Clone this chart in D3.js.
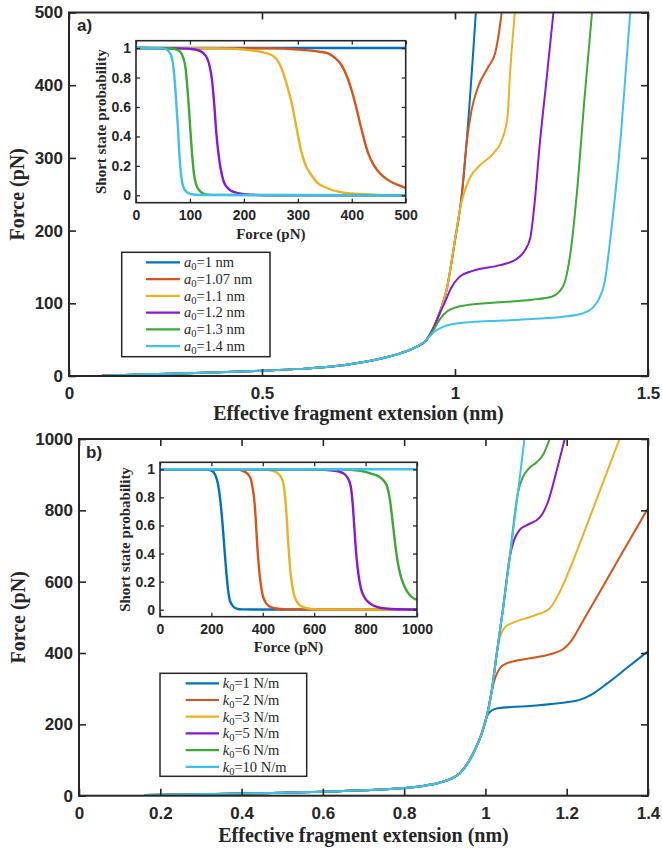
<!DOCTYPE html>
<html>
<head>
<meta charset="utf-8">
<script src="https://cdn.jsdelivr.net/npm/d3@7"></script>
<style>
  body { margin: 0; background: #fff; }
  svg { display: block; }
</style>
</head>
<body>
<script>
const width = 662;
const height = 848;

const colors = ["#0072BD", "#D95319", "#EDB120", "#8419D8", "#3BA935", "#3EC1F0"];

// ---- panel a data: force (pN) vs effective extension (nm) ----
const baseA = [[0.085, 0.5], [0.2, 2.3], [0.35, 4.5], [0.5, 7.3], [0.6, 9.8], [0.68, 13],
  [0.76, 19], [0.82, 25.5], [0.86, 31.5], [0.9, 40], [0.925, 49]];
const steepA = [[0.945, 67], [0.962, 90], [0.978, 118], [1.0, 187]];
const branchA1 = [[1.017, 246], [1.054, 500]];
const branchA107 = [[1.017, 246], [1.030, 320], [1.043, 366], [1.060, 398], [1.086, 425],
  [1.104, 444], [1.112, 466], [1.121, 500]];
const branchA11 = [[1.015, 235], [1.025, 254], [1.039, 273], [1.065, 290], [1.099, 306],
  [1.121, 324], [1.136, 356], [1.142, 411], [1.155, 500]];
const branchA12 = [[0.945, 67], [0.962, 88], [0.975, 103], [0.99, 121], [1.009, 135],
  [1.048, 145], [1.117, 152.5], [1.16, 161], [1.18, 172], [1.195, 190], [1.207, 242],
  [1.218, 310], [1.236, 402], [1.255, 500]];
const branchA13 = [[0.944, 63], [0.962, 79], [0.98, 89], [1.0, 94], [1.03, 97.5],
  [1.117, 101.5], [1.2, 105], [1.25, 109], [1.27, 116], [1.285, 130], [1.3, 173],
  [1.318, 265], [1.335, 379], [1.355, 500]];
const branchA14 = [[0.944, 60], [0.97, 68], [1.0, 72], [1.05, 74.5], [1.11, 76],
  [1.2, 78.5], [1.28, 81.5], [1.33, 86], [1.355, 93], [1.372, 105], [1.388, 130],
  [1.404, 196], [1.43, 333], [1.454, 500]];
const seriesA = [
  baseA.concat(steepA, branchA1),
  baseA.concat(steepA, branchA107),
  baseA.concat(steepA, branchA11),
  baseA.concat(branchA12),
  baseA.concat(branchA13),
  baseA.concat(branchA14)
];
const legendA = ["1", "1.07", "1.1", "1.2", "1.3", "1.4"];

// ---- panel a inset: short state probability vs force ----
const probA1 = [[0, 1], [500, 1]];
const probA107 = [[0, 1], [250, 0.998], [300, 0.99], [340, 0.975], [355, 0.965], [370, 0.93],
  [380, 0.89], [393, 0.79], [400, 0.71], [406, 0.63], [418, 0.45], [430, 0.29], [440, 0.21],
  [452, 0.15], [465, 0.11], [477, 0.084], [490, 0.065], [500, 0.05]];
const probA11 = [[0, 1], [150, 0.998], [200, 0.99], [230, 0.975], [255, 0.945], [265, 0.9],
  [273, 0.83], [282, 0.72], [289, 0.62], [298, 0.45], [307, 0.29], [315, 0.2], [323, 0.15],
  [335, 0.09], [354, 0.05], [375, 0.025], [400, 0.012], [450, 0.003], [500, 0.001]];
const probA12 = [[0, 1], [80, 0.998], [110, 0.99], [125, 0.965], [132, 0.93], [137, 0.87],
  [141, 0.78], [145, 0.62], [149, 0.42], [153, 0.28], [157, 0.18], [162, 0.1], [170, 0.05],
  [180, 0.025], [200, 0.008], [240, 0.001], [500, 0]];
const probA13 = [[0, 1], [60, 0.998], [75, 0.99], [82, 0.975], [88, 0.93], [92, 0.86],
  [95, 0.74], [98, 0.6], [101, 0.43], [104, 0.28], [107, 0.16], [111, 0.08], [116, 0.04],
  [125, 0.012], [140, 0.003], [500, 0]];
const probA14 = [[0, 1], [50, 0.998], [60, 0.98], [66, 0.94], [70, 0.85], [73, 0.72],
  [76, 0.55], [78, 0.45], [80, 0.3], [83, 0.16], [86, 0.08], [90, 0.04], [100, 0.01],
  [120, 0.002], [500, 0]];
const probA = [probA1, probA107, probA11, probA12, probA13, probA14];

// ---- panel b data ----
const baseB = [[0.161, 2], [0.3, 4], [0.45, 7], [0.6, 11], [0.7, 15], [0.8, 21.6], [0.85, 28],
  [0.888, 37], [0.937, 63], [0.97, 119], [0.991, 175], [1.003, 221]];
const branchB1 = [[1.012, 236], [1.03, 245], [1.1, 251], [1.2, 262], [1.23, 268], [1.26, 283],
  [1.3, 315], [1.35, 360], [1.4, 405]];
const branchB2 = [[1.015, 290], [1.024, 330], [1.036, 358], [1.052, 371], [1.134, 390],
  [1.17, 400], [1.19, 410], [1.21, 432], [1.24, 490], [1.32, 648], [1.4, 806]];
const steepB = [[1.015, 290], [1.028, 400]];
const branchB3 = [[1.037, 450], [1.05, 474], [1.068, 485], [1.12, 505], [1.158, 525],
  [1.18, 565], [1.2, 615], [1.265, 805], [1.33, 1000]];
const steepB2 = [[1.044, 530], [1.06, 670]];
const branchB5 = [[1.07, 715], [1.084, 745], [1.101, 758], [1.134, 780], [1.154, 824],
  [1.175, 910], [1.195, 1000]];
const branchB6 = [[1.08, 850], [1.092, 893], [1.105, 915], [1.126, 935], [1.143, 958],
  [1.158, 1000]];
const branchB10 = [[1.08, 850], [1.096, 1000]];
const seriesB = [
  baseB.concat(branchB1),
  baseB.concat(branchB2),
  baseB.concat(steepB, branchB3),
  baseB.concat(steepB, steepB2, branchB5),
  baseB.concat(steepB, steepB2, branchB6),
  baseB.concat(steepB, steepB2, branchB10)
];
const legendB = ["1", "2", "3", "5", "6", "10"];

// ---- panel b inset ----
const probB1 = [[0, 1], [180, 0.998], [200, 0.99], [215, 0.96], [225, 0.9], [232, 0.82],
  [238, 0.72], [243, 0.62], [248, 0.5], [253, 0.38], [258, 0.27], [263, 0.17], [270, 0.08],
  [280, 0.035], [295, 0.01], [320, 0.002], [1000, 0]];
const probB2 = [[0, 1], [300, 0.998], [320, 0.99], [345, 0.96], [355, 0.92], [362, 0.85],
  [368, 0.76], [373, 0.63], [377, 0.5], [382, 0.37], [387, 0.26], [393, 0.17], [400, 0.1],
  [410, 0.055], [425, 0.025], [450, 0.008], [490, 0.002], [1000, 0]];
const probB3 = [[0, 1], [400, 0.998], [440, 0.99], [465, 0.96], [477, 0.92], [484, 0.85],
  [489, 0.76], [494, 0.63], [498, 0.5], [503, 0.37], [508, 0.26], [514, 0.18], [521, 0.11],
  [530, 0.065], [545, 0.03], [570, 0.01], [610, 0.002], [1000, 0]];
const probB5 = [[0, 1], [600, 0.998], [680, 0.99], [710, 0.975], [730, 0.94], [742, 0.88],
  [750, 0.75], [755, 0.62], [760, 0.48], [766, 0.35], [773, 0.24], [782, 0.15], [795, 0.09],
  [810, 0.055], [830, 0.03], [860, 0.012], [900, 0.005], [1000, 0.001]];
const probB6 = [[0, 1], [700, 0.998], [780, 0.99], [820, 0.97], [850, 0.95], [870, 0.92],
  [885, 0.87], [895, 0.78], [903, 0.66], [910, 0.55], [917, 0.44], [925, 0.34], [935, 0.25],
  [950, 0.17], [965, 0.12], [980, 0.09], [1000, 0.07]];
const probB10 = [[0, 1], [1000, 1]];
const probB = [probB1, probB2, probB3, probB5, probB6, probB10];

// ticks
const extTicksA = [0, 0.5, 1, 1.5];
const forceTicksA = [0, 100, 200, 300, 400, 500];
const extTicksB = [0, 0.2, 0.4, 0.6, 0.8, 1, 1.2, 1.4];
const forceTicksB = [0, 200, 400, 600, 800, 1000];
const probTicks = [0, 0.2, 0.4, 0.6, 0.8, 1];
const insetTicksA = [0, 100, 200, 300, 400, 500];
const insetTicksB = [0, 200, 400, 600, 800, 1000];

const sans = "'Liberation Sans', Arial, Helvetica, sans-serif";
const serif = "'Liberation Serif', 'Times New Roman', Times, serif";
const ink = "#262626";
const fmt = d3.format("~g");

const svg = d3.select("body").append("svg")
  .attr("width", width)
  .attr("height", height);

let clipId = 0;

// draws one set of axes (box, inward ticks on all sides, labels) plus the lines
function drawAxes(o) {
  const x = d3.scaleLinear().domain(o.xDomain).range([o.left, o.right]);
  const y = d3.scaleLinear().domain(o.yDomain).range([o.bottom, o.top]);
  const g = svg.append("g");

  // white background (insets hide whatever is beneath)
  g.append("rect")
    .attr("x", o.left).attr("y", o.top)
    .attr("width", o.right - o.left).attr("height", o.bottom - o.top)
    .attr("fill", "#fff");

  const id = "clip" + (clipId++);
  g.append("clipPath").attr("id", id).append("rect")
    .attr("x", o.left).attr("y", o.top)
    .attr("width", o.right - o.left).attr("height", o.bottom - o.top);

  const line = d3.line()
    .x(d => x(d[0]))
    .y(d => y(d[1]))
    .curve(d3.curveMonotoneX);

  g.append("g").attr("clip-path", `url(#${id})`)
    .selectAll("path")
    .data(o.series)
    .join("path")
    .attr("d", line)
    .attr("fill", "none")
    .attr("stroke", (d, i) => colors[i])
    .attr("stroke-width", o.lineWidth)
    .attr("stroke-linejoin", "round");

  const styleAxis = (sel, labels) => {
    sel.select(".domain").remove();
    sel.selectAll(".tick line").attr("stroke", ink).attr("stroke-width", o.axisWidth * 0.8);
    sel.selectAll(".tick text")
      .attr("fill", ink)
      .style("font-family", sans)
      .style("font-weight", "bold")
      .style("font-size", o.tickFont + "px");
    if (!labels) sel.selectAll(".tick text").remove();
  };

  g.append("g").attr("transform", `translate(0,${o.bottom})`)
    .call(d3.axisBottom(x).tickValues(o.xTicks).tickFormat(fmt)
      .tickSizeInner(-o.tickLen).tickSizeOuter(0).tickPadding(o.xPad))
    .call(s => styleAxis(s, true));
  g.append("g").attr("transform", `translate(0,${o.top})`)
    .call(d3.axisTop(x).tickValues(o.xTicks).tickSizeInner(-o.tickLen).tickSizeOuter(0))
    .call(s => styleAxis(s, false));
  g.append("g").attr("transform", `translate(${o.left},0)`)
    .call(d3.axisLeft(y).tickValues(o.yTicks).tickFormat(fmt)
      .tickSizeInner(-o.tickLen).tickSizeOuter(0).tickPadding(o.yPad))
    .call(s => styleAxis(s, true));
  g.append("g").attr("transform", `translate(${o.right},0)`)
    .call(d3.axisRight(y).tickValues(o.yTicks).tickSizeInner(-o.tickLen).tickSizeOuter(0))
    .call(s => styleAxis(s, false));

  g.append("rect")
    .attr("x", o.left).attr("y", o.top)
    .attr("width", o.right - o.left).attr("height", o.bottom - o.top)
    .attr("fill", "none")
    .attr("stroke", ink)
    .attr("stroke-width", o.axisWidth);

  g.append("text")
    .attr("x", (o.left + o.right) / 2)
    .attr("y", o.xLabelY)
    .attr("text-anchor", "middle")
    .attr("fill", ink)
    .style("font-family", serif)
    .style("font-weight", "bold")
    .style("font-size", o.labelFont + "px")
    .text(o.xLabel);

  g.append("text")
    .attr("transform", `translate(${o.yLabelX},${(o.top + o.bottom) / 2}) rotate(-90)`)
    .attr("text-anchor", "middle")
    .attr("fill", ink)
    .style("font-family", serif)
    .style("font-weight", "bold")
    .style("font-size", o.yLabelFont + "px")
    .text(o.yLabel);

  return g;
}

function drawLegend(o) {
  const g = svg.append("g");
  g.append("rect")
    .attr("x", o.x0).attr("y", o.y0)
    .attr("width", o.x1 - o.x0).attr("height", o.y1 - o.y0)
    .attr("fill", "#fff")
    .attr("stroke", ink)
    .attr("stroke-width", 1.5);
  o.labels.forEach((lab, i) => {
    const yy = o.first + i * o.step;
    g.append("line")
      .attr("x1", o.lineX0).attr("x2", o.lineX1)
      .attr("y1", yy).attr("y2", yy)
      .attr("stroke", colors[i])
      .attr("stroke-width", 2.2);
    const t = g.append("text")
      .attr("x", o.textX)
      .attr("y", yy + 4.8)
      .attr("fill", ink)
      .style("font-family", serif)
      .style("font-size", "14.5px");
    t.append("tspan").style("font-style", "italic").text(o.sym);
    t.append("tspan").attr("dy", 3).style("font-size", "10.5px").text("0");
    t.append("tspan").attr("dy", -3).text("=" + lab + " " + o.unit);
  });
}

function panelLabel(txt, x, y) {
  svg.append("text")
    .attr("x", x).attr("y", y)
    .attr("fill", ink)
    .style("font-family", sans)
    .style("font-weight", "bold")
    .style("font-size", "17px")
    .text(txt);
}

// ---------------- panel a ----------------
drawAxes({
  left: 69, right: 648, top: 12.5, bottom: 376,
  xDomain: [0, 1.5], yDomain: [0, 500],
  xTicks: extTicksA, yTicks: forceTicksA,
  series: seriesA, lineWidth: 2,
  tickLen: 7, axisWidth: 2, tickFont: 17, xPad: 11, yPad: 6,
  labelFont: 20, yLabelFont: 20,
  xLabel: "Effective fragment extension (nm)", xLabelY: 420,
  yLabel: "Force (pN)", yLabelX: 24
});
panelLabel("a)", 77, 31);

drawAxes({
  left: 136, right: 405.7, top: 40.7, bottom: 202.7,
  xDomain: [0, 500], yDomain: [-0.05, 1.05],
  xTicks: insetTicksA, yTicks: probTicks,
  series: probA, lineWidth: 2.4,
  tickLen: 4, axisWidth: 1.6, tickFont: 14, xPad: 7, yPad: 5,
  labelFont: 15, yLabelFont: 15,
  xLabel: "Force (pN)", xLabelY: 239,
  yLabel: "Short state probability", yLabelX: 106
});

drawLegend({
  x0: 121.7, y0: 252.3, x1: 270, y1: 356.7,
  first: 262.3, step: 16.75,
  lineX0: 146, lineX1: 180, textX: 184,
  labels: legendA, sym: "a", unit: "nm"
});

// ---------------- panel b ----------------
drawAxes({
  left: 79, right: 648, top: 439, bottom: 795.7,
  xDomain: [0, 1.4], yDomain: [0, 1000],
  xTicks: extTicksB, yTicks: forceTicksB,
  series: seriesB, lineWidth: 2,
  tickLen: 7, axisWidth: 2, tickFont: 17, xPad: 11, yPad: 6,
  labelFont: 20, yLabelFont: 20,
  xLabel: "Effective fragment extension (nm)", xLabelY: 842,
  yLabel: "Force (pN)", yLabelX: 25
});
panelLabel("b)", 86, 458);

drawAxes({
  left: 160, right: 417, top: 462.3, bottom: 616.7,
  xDomain: [0, 1000], yDomain: [-0.05, 1.05],
  xTicks: insetTicksB, yTicks: probTicks,
  series: probB, lineWidth: 2.4,
  tickLen: 4, axisWidth: 1.6, tickFont: 14, xPad: 7, yPad: 5,
  labelFont: 15, yLabelFont: 15,
  xLabel: "Force (pN)", xLabelY: 652,
  yLabel: "Short state probability", yLabelX: 130
});

drawLegend({
  x0: 160, y0: 673.3, x1: 306.7, y1: 776.3,
  first: 683.3, step: 16.7,
  lineX0: 185.7, lineX1: 219, textX: 222.7,
  labels: legendB, sym: "k", unit: "N/m"
});
</script>
</body>
</html>
